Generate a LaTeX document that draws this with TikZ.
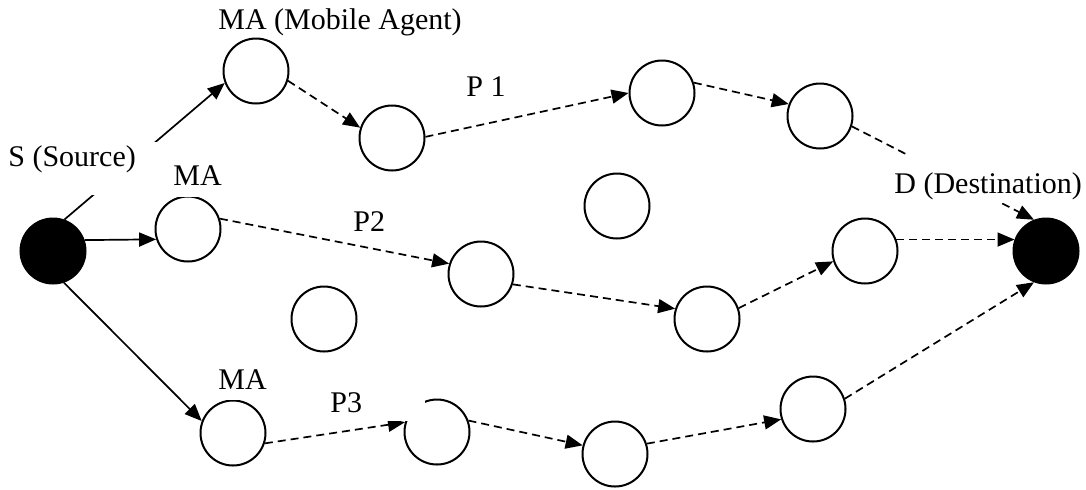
\documentclass[tikz,border=0pt]{standalone}
\usepackage{fontspec}
\setmainfont{Liberation Serif}
\usetikzlibrary{arrows.meta}
\begin{document}
\begin{tikzpicture}[x=0.5pt,y=-0.5pt,
  nd/.style={circle,draw,line width=1pt,minimum size=32.5pt,inner sep=0pt,fill=white},
  blk/.style={nd,fill=black},
  sol/.style={line width=0.85pt,-{Triangle[length=8.5pt,width=7pt]}},
  dsh/.style={sol,dash pattern=on 4pt off 2.5pt},
  lbl/.style={font=\fontsize{15}{18}\selectfont,fill=white,inner sep=0pt,anchor=base west}]
\useasboundingbox (0,0) rectangle (1086,489);
% nodes
\node[blk] (S) at (53,251) {};
\node[nd] (MA1) at (256,71) {};
\node[nd] (c2) at (392,138) {};
\node[nd] (P1c) at (662,93) {};
\node[nd] (c4) at (820,116) {};
\node[nd] (iso1) at (617,206) {};
\node[nd] (MA2) at (188,229) {};
\node[nd] (P2c) at (481,274) {};
\node[nd] (c7) at (707,319) {};
\node[nd] (cR) at (865,251) {};
\node[blk] (D) at (1046,251) {};
\node[nd] (iso2) at (324,319) {};
\node[nd] (MA3) at (233,433) {};
\node[nd] (g) at (437,432) {};
\node[nd] (b) at (615,454) {};
\node[nd] (bR) at (813,409) {};
% solid connectors
\draw[sol] (S.70) -- (MA1.201);
\draw[sol] (S.19) -- (MA2.198);
\draw[sol] (S.-71) -- (MA3.159);
% dashed connectors
\draw[dsh] (MA1.-17) -- (c2.162);
\draw[dsh] (c2.2) -- (P1c.180);
\draw[dsh] (P1c.18) -- (c4.159);
\draw[dsh] (c4.-18) -- (D.111);
\draw[dsh] (MA2.18) -- (P2c.162);
\draw[dsh] (P2c.-18) -- (c7.162);
\draw[dsh] (c7.19) -- (cR.198);
\draw[dsh] (cR.20) -- (D.160);
\draw[dsh] (MA3.-18) -- (g.163);
\draw[dsh] (g.20) -- (b.165);
\draw[dsh] (b.18) -- (bR.198);
\draw[dsh] (bR.18) -- (D.249);
% labels
\node[lbl] (tMA1) at (218,29) {MA (Mobile Agent)};
\node[lbl,inner xsep=11pt,text height=12pt,text depth=14.5pt] (tS) at (-14,166) {S (Source)};
\node[lbl,text depth=6pt] (tMA2) at (173,185) {MA};
\node[lbl] (tP1) at (466,96) {P 1};
\node[lbl] (tP2) at (353,231) {P2};
\node[lbl,inner xsep=2pt,text height=19pt,text depth=5pt] (tD) at (890,193) {D (Destination)};
\node[lbl,text depth=5.5pt] (tMA3) at (218,389) {MA};
\node[lbl,text height=13.5pt,text depth=4.5pt] (tP3) at (330,412) {\makebox[47.5pt][l]{P3}};
\end{tikzpicture}
\end{document}
